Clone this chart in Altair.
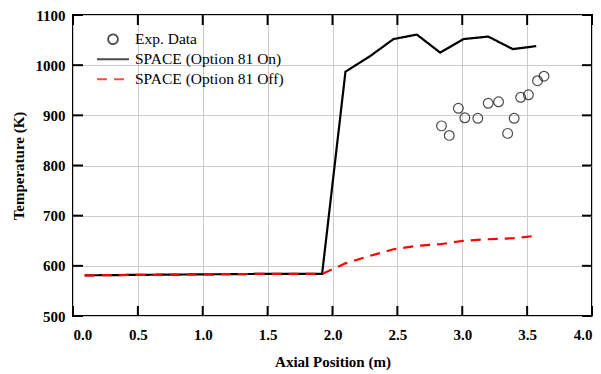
import altair as alt
import pandas as pd

# ---- data ----
sim_x = [0.09, 0.5, 1.0, 1.5, 1.92, 2.10, 2.29, 2.47, 2.65, 2.83, 3.01, 3.20, 3.39, 3.57]
on_T = [581, 582, 583, 584, 584, 987, 1018, 1052, 1061, 1025, 1052, 1057, 1032, 1038]
off_T = [581, 582, 583, 584, 584, 605, 620, 633, 640, 643, 650, 653, 655, 660]

exp_x = [2.84, 2.90, 2.97, 3.02, 3.12, 3.20, 3.28, 3.35, 3.40, 3.45, 3.51, 3.58, 3.63]
exp_T = [879, 860, 914, 895, 894, 924, 927, 864, 894, 936, 941, 969, 978]

x_ticks = [0.0, 0.5, 1.0, 1.5, 2.0, 2.5, 3.0, 3.5, 4.0]
y_ticks = [500, 600, 700, 800, 900, 1000, 1100]

series = ["Exp. Data", "SPACE (Option 81 On)", "SPACE (Option 81 Off)"]

W, H = 519, 301
FONT = "Liberation Serif"

exp_df = pd.DataFrame({"x": exp_x, "T": exp_T, "series": series[0]})
sim_df = pd.concat([
    pd.DataFrame({"x": sim_x, "T": on_T, "series": series[1]}),
    pd.DataFrame({"x": sim_x, "T": off_T, "series": series[2]}),
])
xt_df = pd.DataFrame({"v": x_ticks})
yt_df = pd.DataFrame({"v": y_ticks})

xs = alt.Scale(domain=[0, 4], nice=False)
ys = alt.Scale(domain=[500, 1100], nice=False)

legend = alt.Legend(
    title=None, orient="none", legendX=23, legendY=15, padding=0,
    labelFont=FONT, labelFontSize=15.5, labelColor="black", labelOffset=5,
    symbolStrokeWidth=1.8, rowPadding=1, clipHeight=18.5, labelLimit=400,
)
color = alt.Color("series:N", scale=alt.Scale(domain=series, range=["black", "black", "red"]), legend=legend)
dash = alt.StrokeDash("series:N", scale=alt.Scale(domain=series, range=[[1, 0], [1, 0], [10, 7]]), legend=legend)
shape = alt.Shape("series:N", scale=alt.Scale(domain=series, range=["circle", "stroke", "stroke"]), legend=legend)
size = alt.Size("series:N", scale=alt.Scale(type="ordinal", domain=series, range=[95, 1024, 1024]), legend=legend)

xenc = alt.X("x:Q", scale=xs, axis=alt.Axis(
    title="Axial Position (m)", values=x_ticks, format=".1f", grid=True,
    ticks=False, domain=False, labelPadding=11, titlePadding=12))
yenc = alt.Y("T:Q", scale=ys, axis=alt.Axis(
    title="Temperature (K)", values=y_ticks, format="d", grid=True,
    ticks=False, domain=False, labelPadding=8, titlePadding=9))

lines = alt.Chart(sim_df).mark_line(strokeWidth=2.2).encode(
    x=xenc, y=yenc, color=color, strokeDash=dash, detail="series:N")

pts = alt.Chart(exp_df).mark_point(filled=False, strokeWidth=1.2).encode(
    x=alt.X("x:Q", scale=xs), y=alt.Y("T:Q", scale=ys),
    color=color, shape=shape, size=size)

tk = dict(color="black", strokeWidth=2)
bot = alt.Chart(xt_df).mark_rule(**tk).encode(x=alt.X("v:Q", scale=xs), y=alt.value(H), y2=alt.value(H - 10))
top = alt.Chart(xt_df).mark_rule(**tk).encode(x=alt.X("v:Q", scale=xs), y=alt.value(0), y2=alt.value(10))
lef = alt.Chart(yt_df).mark_rule(**tk).encode(y=alt.Y("v:Q", scale=ys), x=alt.value(0), x2=alt.value(10))
rig = alt.Chart(yt_df).mark_rule(**tk).encode(y=alt.Y("v:Q", scale=ys), x=alt.value(W), x2=alt.value(W - 10))

chart = alt.layer(lines, pts, bot, top, lef, rig).properties(
    width=W, height=H,
    background="white",
    autosize=alt.AutoSizeParams(type="none"),
    padding={"left": 65, "top": 7, "right": 1, "bottom": 56},
).configure_view(
    stroke="black", strokeWidth=2,
).configure_axis(
    labelFont=FONT, labelFontSize=15, labelFontWeight="bold", labelColor="black",
    titleFont=FONT, titleFontSize=15, titleFontWeight="bold", titleColor="black",
    gridColor="#cccccc", gridWidth=1, gridOpacity=1,
)

chart.save("out.html", embed_options={"renderer": "svg", "actions": False})
